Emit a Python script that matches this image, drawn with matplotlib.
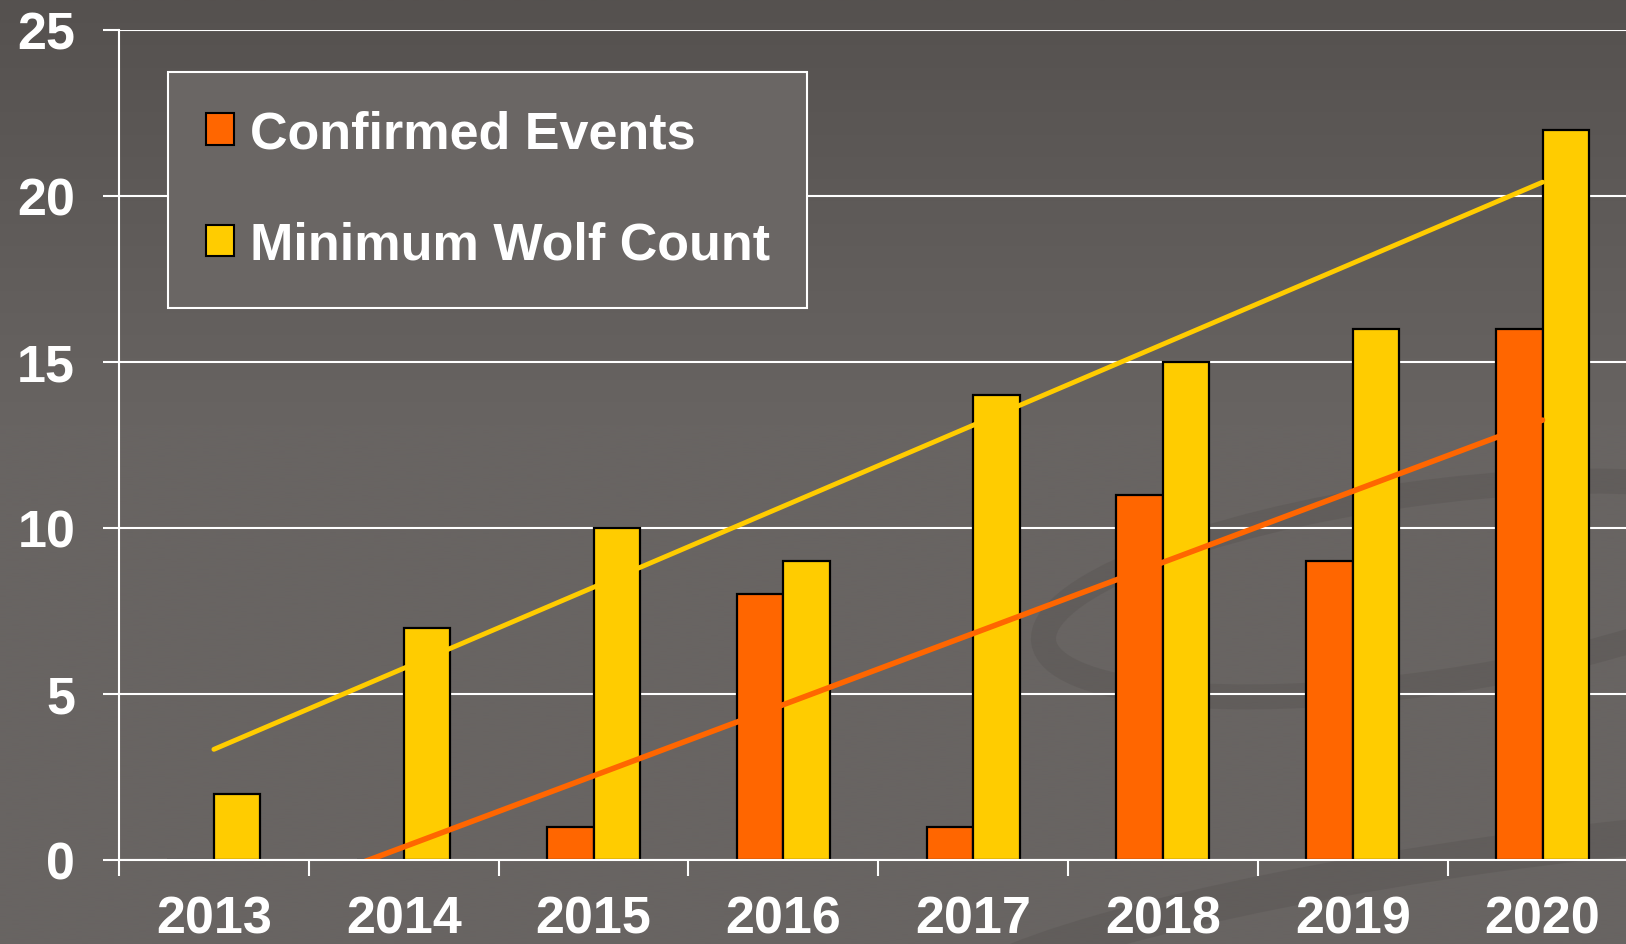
import numpy as np
import matplotlib
matplotlib.use("Agg")
import matplotlib.pyplot as plt
from matplotlib.patches import Patch, Ellipse

years = ["2013", "2014", "2015", "2016", "2017", "2018", "2019", "2020"]
confirmed_events = [0, 0, 1, 8, 1, 11, 9, 16]
min_wolf_count = [2, 7, 10, 9, 14, 15, 16, 22]
series_labels = ["Confirmed Events", "Minimum Wolf Count"]
y_ticks = [0, 5, 10, 15, 20, 25]

ORANGE = "#FF6600"
YELLOW = "#FFCC00"
FS = 37.5

plt.rcParams['font.family'] = ['Liberation Sans', 'DejaVu Sans']
plt.rcParams['font.weight'] = 'bold'

W, H = 1626, 945
fig = plt.figure(figsize=(W / 100, H / 100), dpi=100)

# background gradient
bg = fig.add_axes([0, 0, 1, 1], zorder=-10)
grad = np.linspace(0, 1, 256)
col_top = np.array([0x55, 0x51, 0x4f]) / 255
col_mid = np.array([0x68, 0x64, 0x62]) / 255
t = np.clip(grad / 0.45, 0, 1)[:, None]
img = col_top * (1 - t) + col_mid * t
bg.imshow(img[:, None, :], aspect='auto', extent=[0, W, H, 0], interpolation='bilinear')
for (cx, cy, w, h, a, lw) in [(1420, 590, 760, 190, -8, 18), (1500, 930, 1100, 150, -8, 26)]:
    bg.add_patch(Ellipse((cx, cy), w, h, angle=a, fill=False, edgecolor='#5c5856', linewidth=lw, alpha=0.55))
bg.set_xlim(0, W)
bg.set_ylim(H, 0)
bg.axis('off')

left = 119 / W
bottom = 1 - 861 / H
top = 1 - 31 / H
width = (119 + 8 * 189.8) / W - left
ax = fig.add_axes([left, bottom, width, top - bottom])
ax.set_facecolor('none')

x = np.arange(len(years))
bw = 0.245
ax.bar(x - bw / 2, confirmed_events, bw, color=ORANGE, edgecolor='black', linewidth=1.6, zorder=3)
ax.bar(x + bw / 2, min_wolf_count, bw, color=YELLOW, edgecolor='black', linewidth=1.6, zorder=3)

# linear trend lines
for vals, c, lw in [(min_wolf_count, YELLOW, 3.5), (confirmed_events, ORANGE, 4.0)]:
    k, b = np.polyfit(x, vals, 1)
    xx = np.array([x[0], x[-1]])
    ax.plot(xx, k * xx + b, color=c, linewidth=lw, zorder=4, solid_capstyle='round')

ax.set_xlim(-0.5, len(years) - 0.5)
ax.set_ylim(0, 25)
ax.set_yticks(y_ticks)
ax.yaxis.grid(True, color='white', linewidth=1.5)
ax.set_axisbelow(True)

ax.set_xticks(x)
ax.set_xticklabels(years)
ax.set_xticks(np.arange(-0.5, len(years), 1), minor=True)
ax.tick_params(axis='x', which='major', length=0, pad=24.5, labelsize=FS, labelcolor='white')
ax.tick_params(axis='x', which='minor', length=11.5, width=1.5, color='white', direction='out')
ax.tick_params(axis='y', length=11.5, width=1.5, color='white', direction='out', pad=20,
               labelsize=FS, labelcolor='white')
for lab in ax.get_xticklabels() + ax.get_yticklabels():
    lab.set_fontweight('bold')

for s in ['top', 'right']:
    ax.spines[s].set_visible(False)
for s in ['left', 'bottom']:
    ax.spines[s].set_color('white')
    ax.spines[s].set_linewidth(1.5)
    ax.spines[s].set_zorder(5)

handles = [Patch(facecolor=ORANGE, edgecolor='black', linewidth=1.5),
           Patch(facecolor=YELLOW, edgecolor='black', linewidth=1.5)]
leg = ax.legend(handles, series_labels, loc='upper left',
                bbox_to_anchor=(168 / W, 1 - 73 / H), bbox_transform=fig.transFigure,
                frameon=True, fancybox=False, framealpha=1,
                handlelength=0.55, handleheight=0.55, handletextpad=0.3,
                labelspacing=1.2, borderpad=0.72, borderaxespad=0,
                prop={'weight': 'bold', 'size': FS, 'family': ['Liberation Sans', 'DejaVu Sans']})
frame = leg.get_frame()
frame.set_facecolor('#6a6664')
frame.set_edgecolor('white')
frame.set_linewidth(1.5)
for txt in leg.get_texts():
    txt.set_color('white')
leg.set_zorder(6)

fig.savefig('out.png', dpi=100)
